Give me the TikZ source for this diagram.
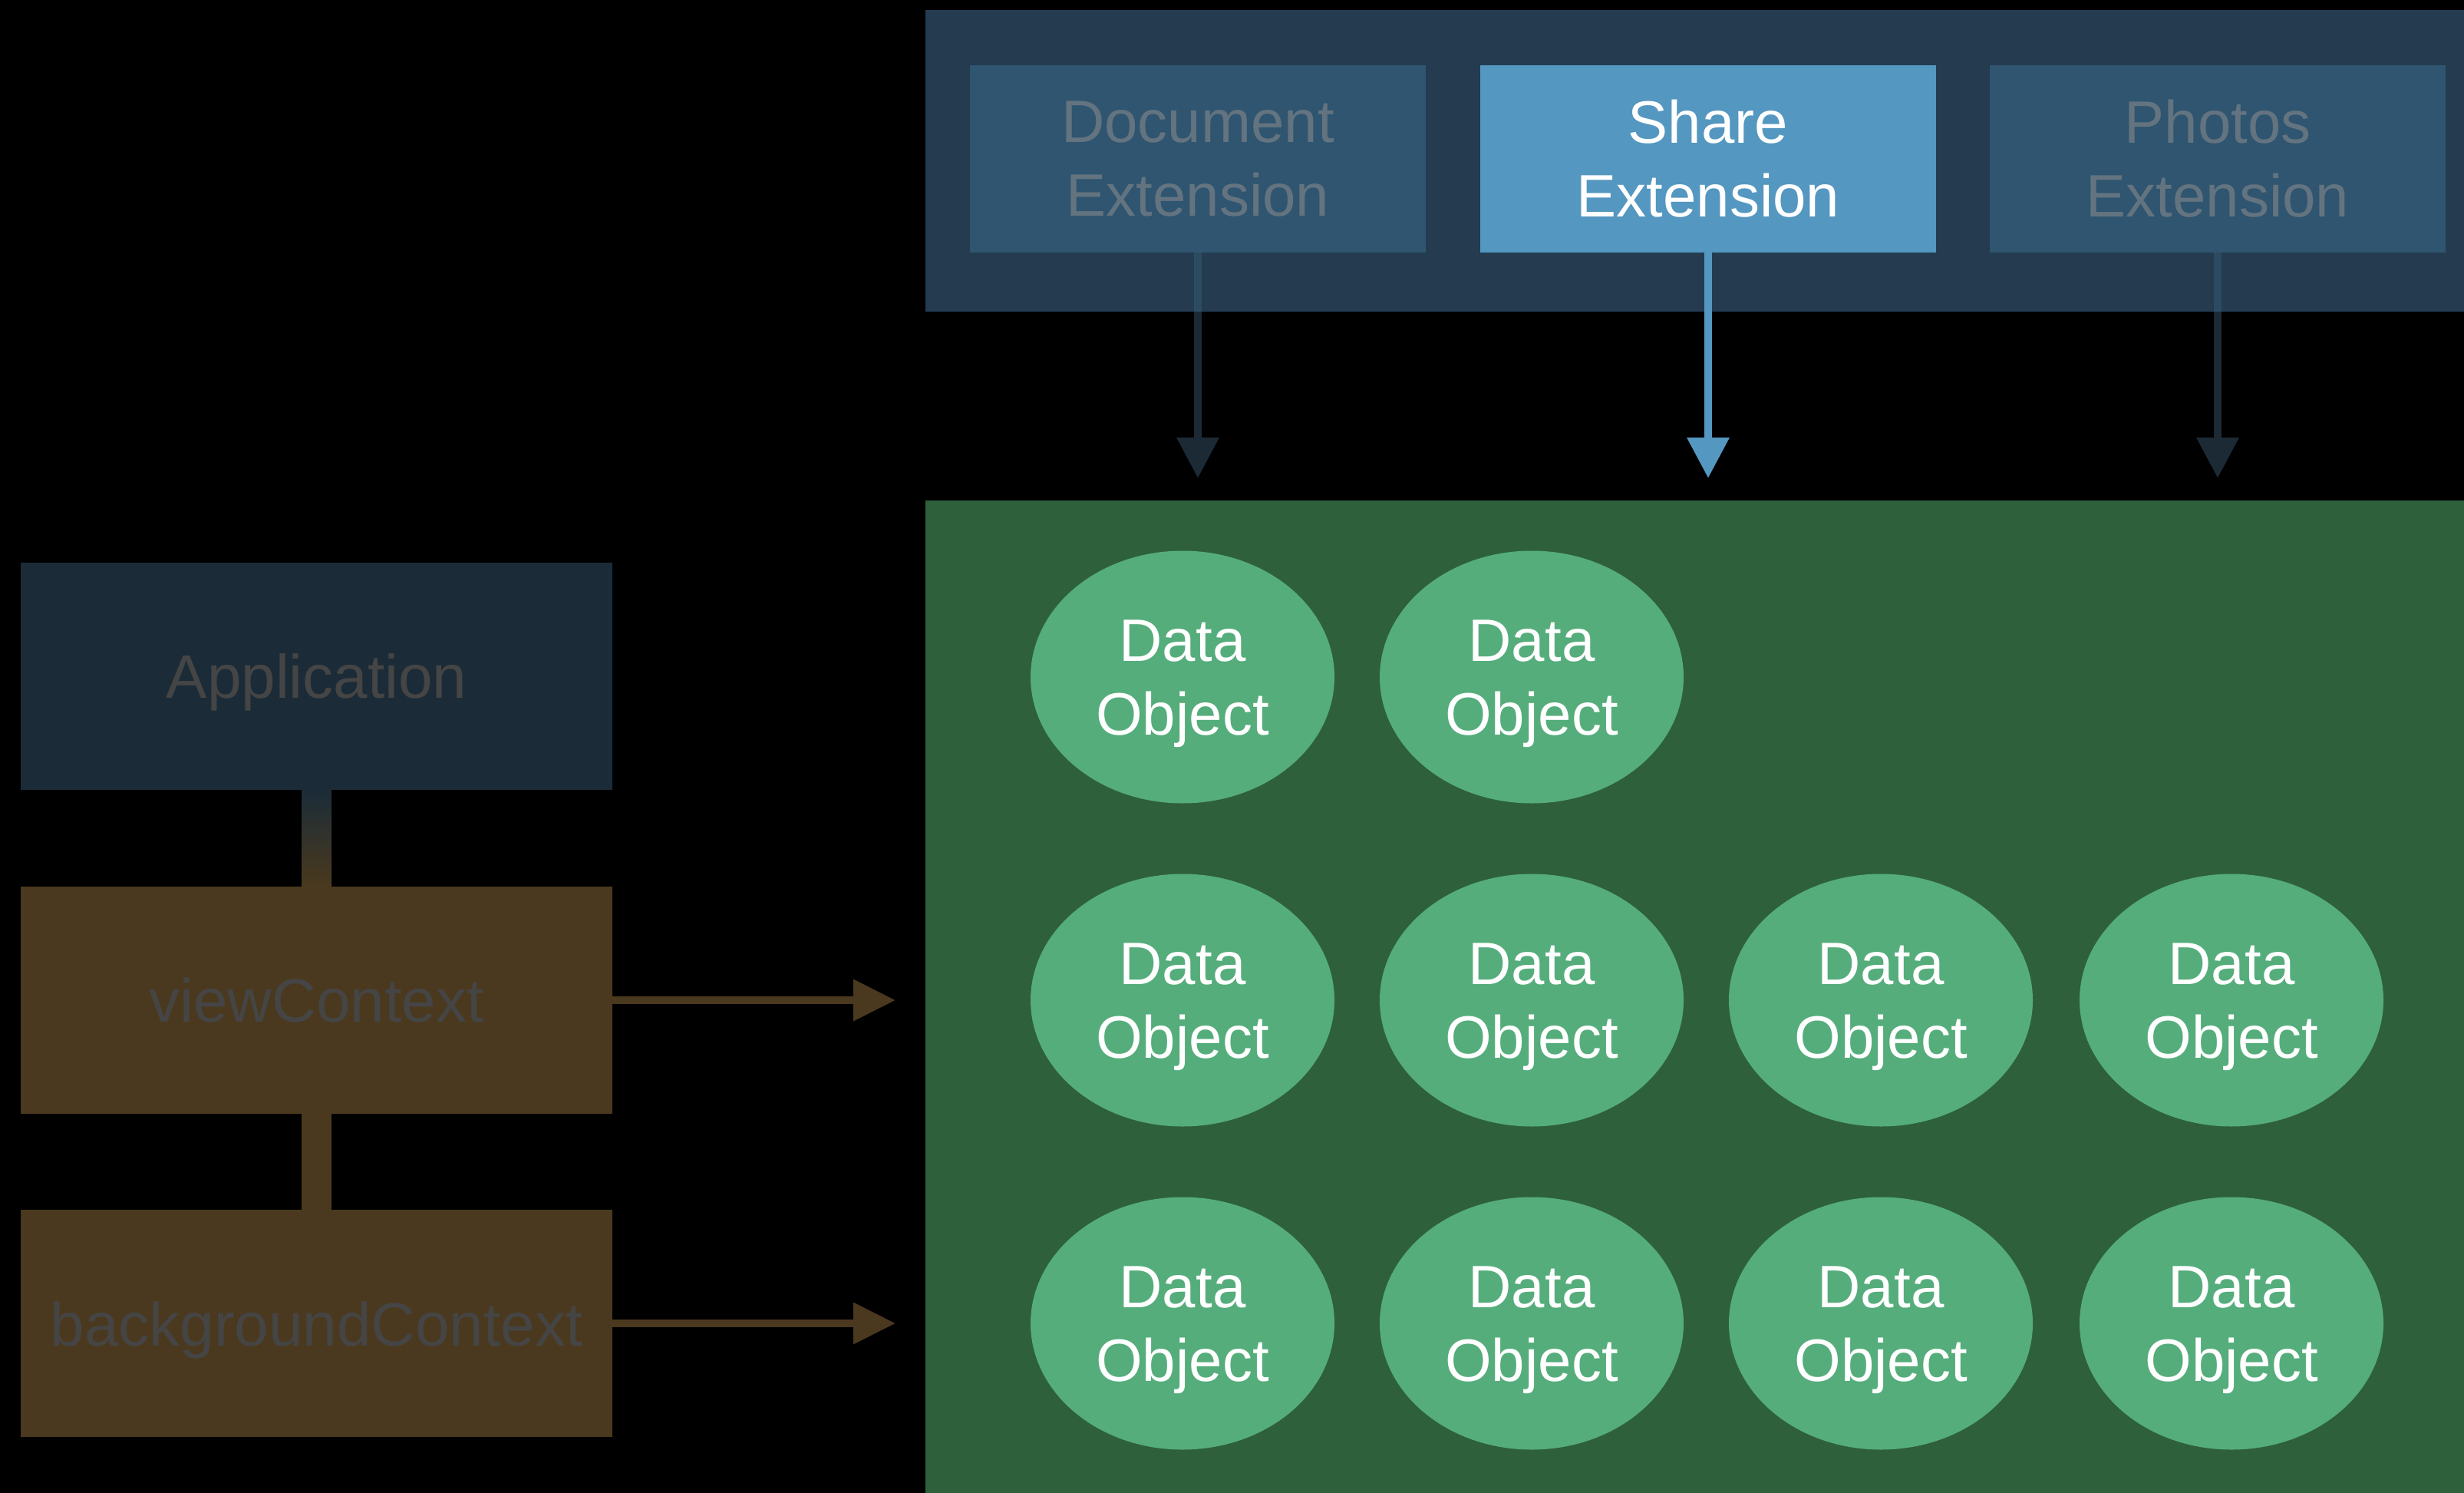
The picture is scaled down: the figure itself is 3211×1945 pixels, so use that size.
\documentclass[tikz,border=0pt]{standalone}
\usepackage{fontspec}
\setmainfont{Liberation Sans}
\usetikzlibrary{shapes.geometric,arrows.meta}
\definecolor{bgpanel}{HTML}{243B50}
\definecolor{extbox}{HTML}{2F5570}
\definecolor{extsel}{HTML}{5497C0}
\definecolor{exttext}{HTML}{637480}
\definecolor{greenpanel}{HTML}{2E603C}
\definecolor{dobj}{HTML}{55AD7B}
\definecolor{appbox}{HTML}{1B2C38}
\definecolor{ctxbox}{HTML}{4A391E}
\definecolor{ctxtext}{HTML}{454545}
\definecolor{darkarrow}{HTML}{1C2A35}
\definecolor{panelarrow}{HTML}{2C4B63}
\newcommand{\dobjtext}{\rule{0pt}{72pt}Data\\Object}
\tikzset{
  big/.style={font=\fontsize{78}{96}\selectfont},
  extnode/.style={big, rectangle, inner sep=0pt, minimum width=594pt, minimum height=243pt, align=center},
  leftnode/.style={font=\fontsize{80}{96}\selectfont, rectangle, inner sep=0pt, text depth=0pt, minimum width=771pt, minimum height=296pt, text=ctxtext},
  dataobj/.style={big, ellipse, inner sep=0pt, minimum width=396pt, minimum height=329pt, fill=dobj, text=white, align=center},
  extarrow/.style={line width=10pt, -{Triangle[length=53pt,width=53pt]}},
  ctxarrow/.style={line width=10pt, draw=ctxbox, -{Triangle[length=55pt,width=52pt]}}
}
\begin{document}
\begin{tikzpicture}[x=1pt,y=-1pt]
\fill[black] (0,0) rectangle (3211,1945);
\useasboundingbox (0,0) rectangle (3211,1945);
% panels
\node[fill=bgpanel, inner sep=0pt, minimum width=2005pt, minimum height=393pt] (toppanel) at (2208.5,209.5) {};
\node[fill=greenpanel, inner sep=0pt, minimum width=2005pt, minimum height=1293pt] (greenpanel) at (2208.5,1298.5) {};
% extension boxes
\node[extnode, fill=extbox, text=exttext] (doc) at (1561,207) {Document\\Extension};
\node[extnode, fill=extsel, text=white] (share) at (2226,207) {Share\\Extension};
\node[extnode, fill=extbox, text=exttext] (photos) at (2890,207) {Photos\\Extension};
\coordinate (docend) at (1561,623);
\coordinate (shareend) at (2226,623);
\coordinate (photosend) at (2890,623);
\draw[extarrow, draw=darkarrow] (doc.south) -- (docend);
\draw[line width=10pt, panelarrow] (doc.south) -- (doc.south |- toppanel.south);
\draw[extarrow, draw=extsel] (share.south) -- (shareend);
\draw[extarrow, draw=darkarrow] (photos.south) -- (photosend);
\draw[line width=10pt, panelarrow] (photos.south) -- (photos.south |- toppanel.south);
% left stack
\node[leftnode, fill=appbox] (app) at (412.5,881) {Application};
\node[leftnode, fill=ctxbox] (view) at (412.5,1303) {viewContext};
\node[leftnode, fill=ctxbox] (bgctx) at (412.5,1724) {backgroundContext};
\shade[top color=appbox, bottom color=ctxbox] ([xshift=-19.5pt]app.south) rectangle ([xshift=19.5pt]view.north);
\fill[ctxbox] ([xshift=-19.5pt]view.south) rectangle ([xshift=19.5pt]bgctx.north);
\coordinate (viewend) at (1167,1303);
\coordinate (bgend) at (1167,1724);
\draw[ctxarrow] (view.east) -- (viewend);
\draw[ctxarrow] (bgctx.east) -- (bgend);
% data objects
\node[dataobj] (d11) at (1541,882) {\dobjtext};
\node[dataobj] (d12) at (1996,882) {\dobjtext};
\node[dataobj] (d21) at (1541,1303) {\dobjtext};
\node[dataobj] (d22) at (1996,1303) {\dobjtext};
\node[dataobj] (d23) at (2451,1303) {\dobjtext};
\node[dataobj] (d24) at (2908,1303) {\dobjtext};
\node[dataobj] (d31) at (1541,1724) {\dobjtext};
\node[dataobj] (d32) at (1996,1724) {\dobjtext};
\node[dataobj] (d33) at (2451,1724) {\dobjtext};
\node[dataobj] (d34) at (2908,1724) {\dobjtext};
\end{tikzpicture}
\end{document}
